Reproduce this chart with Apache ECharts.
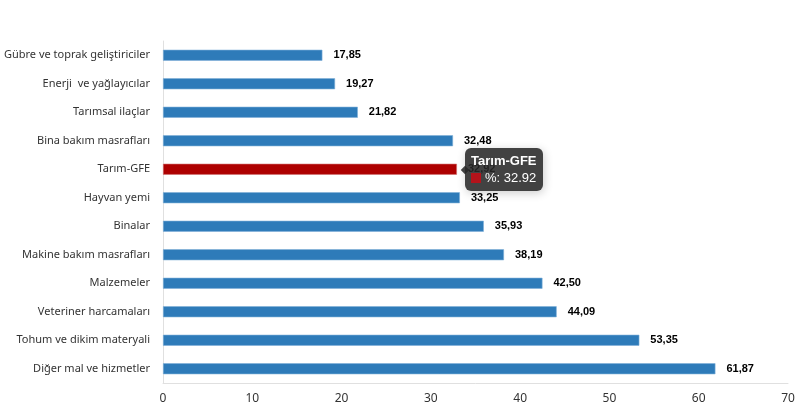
<!DOCTYPE html>
<html><head><meta charset="utf-8">
<script src="https://cdn.jsdelivr.net/npm/echarts@6/dist/echarts.min.js"></script>
<style>html,body{margin:0;padding:0;background:#fff}#c{width:800px;height:411px}</style>
</head><body><div id="c"></div>
<script>
const categories = ["Gübre ve toprak geliştiriciler","Enerji  ve yağlayıcılar","Tarımsal ilaçlar","Bina bakım masrafları","Tarım-GFE","Hayvan yemi","Binalar","Makine bakım masrafları","Malzemeler","Veteriner harcamaları","Tohum ve dikim materyali","Diğer mal ve hizmetler"];
const values = [17.85,19.27,21.82,32.48,32.92,33.25,35.93,38.19,42.50,44.09,53.35,61.87];
const highlight = "Tarım-GFE";
const xTicks = [0,10,20,30,40,50,60,70];

const chart = echarts.init(document.getElementById('c'));
const blue = '#2e7bb9', red = '#ae0000';
chart.setOption({
  animation:false,
  grid:{left:163,right:12,top:41,bottom:28,containLabel:false,outerBoundsMode:'none'},
  tooltip:{trigger:'item',position:'right',alwaysShowContent:true,
    backgroundColor:'rgba(40,40,40,0.88)',borderWidth:0,padding:[4,6],
    extraCssText:'border-radius:6px;',
    textStyle:{color:'#fff',fontFamily:'Liberation Sans, Arial',fontSize:13},
    formatter:p=>'<div style="font-weight:bold;font-size:13px;line-height:17px">'+p.name+'</div>'+
      '<div style="line-height:18px;font-size:13px"><span style="display:inline-block;width:10px;height:10px;background:#b3131b;margin-right:4px;vertical-align:-1px"></span>%: '+p.value+'</div>'},
  xAxis:{type:'value',min:0,max:70,interval:10,
    axisLine:{show:true,lineStyle:{color:'#e0e0e0'}},axisTick:{show:false},splitLine:{show:false},
    axisLabel:{color:'#333',fontSize:12,fontFamily:'Noto Sans',margin:10}},
  yAxis:{type:'category',inverse:true,data:categories,
    axisLine:{show:true,lineStyle:{color:'#e0e0e0'}},axisTick:{show:false},
    axisLabel:{color:'#333',fontSize:11,fontFamily:'Noto Sans',margin:13}},
  series:[{type:'bar',barWidth:11,
    data:values.map((v,i)=>({value:v,itemStyle:{color:categories[i]===highlight?red:blue,
      borderColor:categories[i]===highlight?'#d07070':'#7fb0d8',borderWidth:0.6}})),
    label:{show:true,position:'right',distance:11,color:'#000',fontWeight:'bold',fontSize:11,fontFamily:'Liberation Sans, Arial',
      formatter:p=>p.value.toFixed(2).replace('.',',')}}]
});
chart.dispatchAction({type:'showTip',seriesIndex:0,dataIndex:categories.indexOf(highlight)});
</script></body></html>
